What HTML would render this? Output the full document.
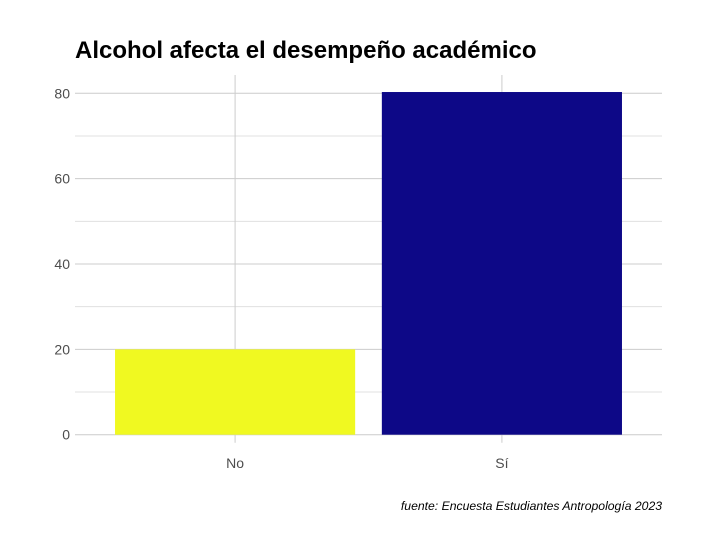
<!DOCTYPE html>
<html><head><meta charset="utf-8"><style>
body{margin:0;background:#fff;font-family:"Liberation Sans",sans-serif}
</style></head><body>
<svg width="702" height="552" xmlns="http://www.w3.org/2000/svg">
<rect width="702" height="552" fill="#fff"/>
<text x="75" y="58" font-size="24" font-weight="bold" fill="#000">Alcohol afecta el desempeño académico</text>
<g id="grid"></g>
<g id="bars"></g>
<g id="labels"></g>
<text x="662" y="510" font-size="12.2" font-style="italic" text-anchor="end" fill="#000">fuente: Encuesta Estudiantes Antropología 2023</text>
</svg>
<script>
const categories=["No","Sí"];
const values=[20,80.3];
const colors=["#F0F921","#0D0887"];
const yTicks=[0,20,40,60,80];
const yMinor=[10,30,50,70];
const NS="http://www.w3.org/2000/svg";
const px0=75,px1=662,py0=434.7,pyScale=4.2675;
const y=v=>py0-v*pyScale;
const step=(px1-px0)/(categories.length-1+1.2);
const cx=i=>px0+step*0.6+i*step;
const bw=step*0.9;
function mk(tag,attrs,parent){const e=document.createElementNS(NS,tag);for(const k in attrs)e.setAttribute(k,attrs[k]);document.getElementById(parent).appendChild(e);return e;}
yMinor.forEach(v=>{const l=mk('line',{x1:px0,x2:px1,y1:y(v),y2:y(v),stroke:'#e0e0e0','stroke-width':1},'grid');

});
yTicks.forEach(v=>{const l=mk('line',{x1:px0,x2:px1,y1:y(v),y2:y(v),stroke:'#cccccc','stroke-width':1},'grid');


const t=mk('text',{x:70,y:y(v)+5,'font-size':14,'text-anchor':'end',fill:'#4d4d4d'},'labels');t.textContent=v;

});
categories.forEach((c,i)=>{const l=mk('line',{x1:cx(i),x2:cx(i),y1:75,y2:py0+8,stroke:'#cccccc','stroke-width':1},'grid');


const r=mk('rect',{x:cx(i)-bw/2,y:y(values[i]),width:bw,height:py0-y(values[i]),fill:colors[i]},'bars');


const t=mk('text',{x:cx(i),y:468,'font-size':14,'text-anchor':'middle',fill:'#4d4d4d'},'labels');t.textContent=c;

});
</script>
</body></html>
